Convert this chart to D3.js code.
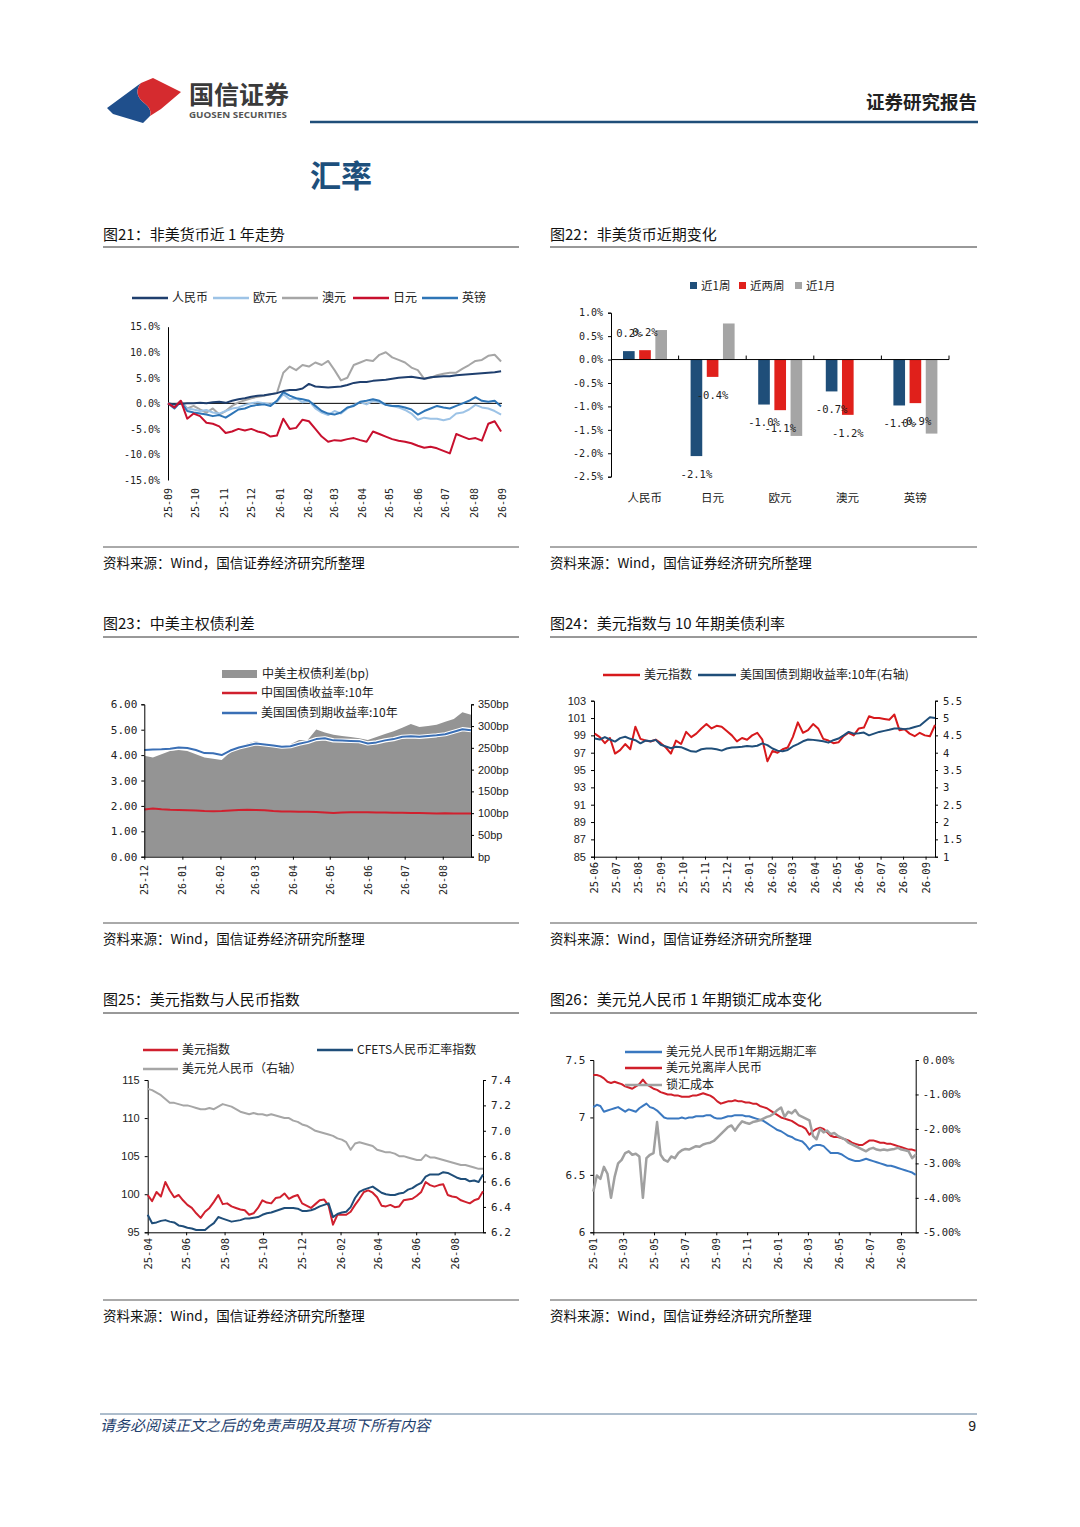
<!DOCTYPE html>
<html><head><meta charset="utf-8">
<script src="https://cdn.jsdelivr.net/npm/d3@7"></script>
<style>body{margin:0;background:#fff}svg{display:block}</style>
</head><body>
<svg id="page" width="1080" height="1527"></svg>
<script>
// ---------------- DATA ----------------
// 图21 非美货币近1年走势 (weekly, from 2025-09-01), %
const c21Start = "2025-09-01";
const c21Months = ["25-09","25-10","25-11","25-12","26-01","26-02","26-03","26-04","26-05","26-06","26-07","26-08","26-09"];
const c21YTicks = [-15,-10,-5,0,5,10,15];
const c21Names = ["人民币","欧元","澳元","日元","英镑"];
const c21Cny = [0,-0.2,-0.1,0,0,0.1,0,0.2,0.3,0.1,0.5,0.8,1.0,1.3,1.5,1.6,1.8,2.0,2.4,2.6,2.6,2.9,3.8,3.3,3.2,3.1,3.2,3.3,3.6,4.0,4.2,4.2,4.4,4.5,4.6,4.8,5.0,5.1,5.2,5.0,4.8,5.1,5.2,5.3,5.3,5.5,5.6,5.7,5.8,5.9,6.0,6.1,6.3];
const c21Eur = [0,-0.6,0.2,-1.0,-1.2,-1.5,-1.3,-1.8,-2.0,-1.5,-1.0,-0.8,-0.3,0,0.2,0,-0.2,0.3,1.8,0.8,1.0,0.2,0.5,-1.0,-1.8,-2.3,-1.5,-2.0,-1.0,-0.3,0.2,-0.2,0.5,0.2,-0.3,-0.5,-0.8,-1.3,-2.0,-3.2,-2.8,-3.0,-3.0,-3.3,-3.0,-2.0,-1.8,-1.2,-0.3,-0.8,-1.0,-1.5,-2.2];
const c21Aud = [0,-0.5,0.5,-1.0,-0.5,-1.2,-1.8,-1.0,-2.2,-1.5,-0.5,0.2,0.6,1.0,1.3,1.5,1.8,2.0,6.0,7.2,6.5,7.5,7.2,8.0,7.5,8.3,6.5,4.5,5.0,7.5,8.0,8.5,8.3,9.5,10.0,9.0,8.5,8.0,7.0,6.5,4.8,5.0,5.5,5.8,6.0,6.0,6.8,7.5,8.3,8.5,9.3,9.5,8.2];
const c21Jpy = [0,-0.8,0.5,-3.0,-2.0,-2.5,-3.8,-4.0,-4.5,-5.8,-5.5,-5.0,-5.3,-5.0,-5.5,-5.8,-6.5,-6.3,-3.0,-5.0,-4.8,-3.2,-3.5,-5.0,-6.5,-7.5,-7.2,-7.3,-7.0,-6.8,-7.2,-7.5,-5.5,-6.0,-6.5,-7.0,-7.3,-7.5,-7.8,-8.3,-8.7,-8.5,-8.8,-9.3,-9.8,-6.0,-6.5,-7.0,-6.8,-7.3,-4.0,-3.5,-5.5];
const c21Gbp = [0,-1.0,0.3,-1.5,-1.8,-2.0,-2.2,-2.5,-2.3,-2.8,-2.0,-1.2,-1.0,-0.5,-0.3,-0.2,-0.5,0.5,2.2,1.5,1.0,0.8,0.5,-0.5,-1.5,-2.0,-2.2,-1.8,-0.8,-0.5,0.3,0.5,0.8,0.5,-0.3,-0.5,-0.5,-0.8,-1.2,-2.2,-1.5,-1.0,-0.5,-0.8,-1.0,-0.5,0.0,0.5,1.2,0.5,0.3,0.5,-0.6];

// 图22 非美货币近期变化, %
const c22Cats = ["人民币","日元","欧元","澳元","英镑"];
const c22Series = ["近1周","近两周","近1月"];
const c22Week = [0.18,-2.06,-0.96,-0.68,-0.98];
const c22TwoWeek = [0.20,-0.37,-1.08,-1.18,-0.93];
const c22Month = [0.63,0.77,-1.63,0.0,-1.58];
const c22YTicks = [-2.5,-2.0,-1.5,-1.0,-0.5,0,0.5,1.0];

// 图23 中美主权债利差 (weekly from 2025-12-01)
const c23Start = "2025-12-01";
const c23Months = ["25-12","26-01","26-02","26-03","26-04","26-05","26-06","26-07","26-08"];
const c23Names = ["中美主权债利差(bp)","中国国债收益率:10年","美国国债到期收益率:10年"];
const c23Spread = [232,228,235,243,245,243,235,228,225,222,240,252,260,266,258,255,252,258,268,268,292,285,280,277,275,272,268,275,282,288,296,305,298,300,303,310,316,332,326];
const c23Cn = [1.86,1.90,1.87,1.85,1.84,1.83,1.82,1.80,1.79,1.80,1.82,1.84,1.85,1.84,1.83,1.80,1.78,1.78,1.77,1.77,1.76,1.74,1.72,1.74,1.75,1.75,1.75,1.74,1.74,1.73,1.73,1.72,1.72,1.71,1.70,1.71,1.70,1.70,1.70];
const c23Us = [4.20,4.22,4.23,4.25,4.30,4.28,4.20,4.08,4.07,4.00,4.18,4.30,4.38,4.46,4.42,4.38,4.33,4.35,4.45,4.52,4.63,4.66,4.58,4.57,4.56,4.55,4.46,4.50,4.58,4.63,4.72,4.74,4.72,4.75,4.78,4.82,4.92,5.02,4.98];
const c23LTicks = [0,1,2,3,4,5,6];
const c23RTicks = [0,50,100,150,200,250,300,350];

// 图24 美元指数与10年期美债利率 (weekly from 2025-06-02)
const c24Start = "2025-06-02";
const c24Months = ["25-06","25-07","25-08","25-09","25-10","25-11","25-12","26-01","26-02","26-03","26-04","26-05","26-06","26-07","26-08","26-09"];
const c24Names = ["美元指数","美国国债到期收益率:10年(右轴)"];
const c24Dxy = [99.2,98.8,98.1,98.7,96.9,97.3,98.0,97.4,100.0,98.6,98.4,98.3,98.5,98.1,97.6,96.9,98.4,98.0,99.4,98.8,99.2,99.8,100.3,99.8,100.1,100.0,99.5,99.0,98.3,98.7,98.5,99.0,99.3,98.5,96.0,97.2,97.0,97.4,97.6,98.8,100.5,99.3,99.6,100.3,99.8,98.6,98.4,98.1,98.2,98.9,99.3,99.0,99.8,99.9,101.2,101.0,101.0,100.9,100.8,101.4,99.6,99.7,99.2,98.9,99.3,99.0,98.9,100.2];
const c24Ust = [4.41,4.38,4.45,4.38,4.32,4.42,4.46,4.40,4.36,4.27,4.35,4.33,4.37,4.23,4.18,4.13,4.17,4.16,4.10,4.04,4.03,4.10,4.12,4.12,4.10,4.06,4.12,4.15,4.16,4.17,4.19,4.18,4.20,4.27,4.22,4.12,4.06,4.04,4.08,4.18,4.25,4.33,4.38,4.37,4.35,4.33,4.29,4.36,4.41,4.50,4.60,4.55,4.56,4.58,4.50,4.55,4.60,4.63,4.66,4.70,4.70,4.68,4.70,4.74,4.78,4.90,5.02,5.00];
const c24LTicks = [85,87,89,91,93,95,97,99,101,103];
const c24RTicks = [1,1.5,2,2.5,3,3.5,4,4.5,5,5.5];

// 图25 美元指数与人民币指数 (weekly from 2025-04-01)
const c25Start = "2025-04-01";
const c25Months = ["25-04","25-06","25-08","25-10","25-12","26-02","26-04","26-06","26-08"];
const c25Names = ["美元指数","CFETS人民币汇率指数","美元兑人民币（右轴）"];
const c25Dxy = [99.9,99.1,100.3,99.7,101.6,100.5,99.6,99.9,99.2,98.6,98.2,97.5,96.9,97.7,98.2,99.0,99.9,98.7,98.8,98.4,98.2,98.0,97.9,97.3,97.5,98.2,99.2,98.9,98.8,99.5,99.6,100.1,99.4,99.7,99.9,98.8,98.5,98.2,98.7,99.2,99.3,98.5,96.0,97.3,97.3,97.3,97.7,98.6,99.4,100.3,100.5,100.2,99.6,98.5,98.4,98.6,98.3,98.4,99.2,99.3,99.4,99.8,100.3,101.6,101.2,101.0,101.2,101.3,99.9,99.7,99.6,99.2,99.0,98.8,99.2,99.4,100.4];
const c25Cfets = [97.3,96.2,96.3,96.5,96.6,96.4,96.3,95.9,95.8,95.6,95.5,95.3,95.3,95.3,95.8,96.2,97.0,96.8,96.6,96.4,96.5,96.6,96.8,96.8,96.9,97.0,97.3,97.5,97.6,97.8,98.0,98.2,98.2,98.2,98.1,97.8,97.8,97.9,98.1,98.4,98.6,98.8,97.0,97.4,97.6,97.7,98.3,99.5,100.3,100.6,100.8,101.0,100.6,100.2,100.0,99.9,99.9,100.1,100.2,100.6,100.8,101.2,101.5,102.3,102.6,102.6,102.6,102.9,102.8,102.5,102.2,102.0,102.0,101.7,101.8,101.6,102.6];
const c25UsdCny = [7.33,7.32,7.30,7.28,7.25,7.22,7.22,7.21,7.20,7.20,7.19,7.18,7.17,7.17,7.18,7.17,7.19,7.21,7.20,7.19,7.17,7.15,7.14,7.13,7.14,7.13,7.13,7.12,7.13,7.12,7.11,7.10,7.10,7.08,7.07,7.05,7.04,7.02,7.00,6.99,6.98,6.97,6.96,6.94,6.93,6.91,6.85,6.90,6.91,6.90,6.89,6.88,6.85,6.84,6.83,6.83,6.82,6.80,6.80,6.79,6.78,6.77,6.77,6.81,6.79,6.79,6.78,6.77,6.76,6.75,6.74,6.73,6.73,6.72,6.71,6.70,6.70];
const c25LTicks = [95,100,105,110,115];
const c25RTicks = [6.2,6.4,6.6,6.8,7.0,7.2,7.4];

// 图26 美元兑人民币1年期锁汇成本变化 (weekly from 2025-01-01)
const c26Start = "2025-01-01";
const c26Months = ["25-01","25-03","25-05","25-07","25-09","25-11","26-01","26-03","26-05","26-07","26-09"];
const c26Names = ["美元兑人民币1年期远期汇率","美元兑离岸人民币","锁汇成本"];
const c26Fwd = [7.09,7.11,7.10,7.05,7.06,7.07,7.08,7.09,7.07,7.05,7.07,7.06,7.05,7.08,7.10,7.12,7.09,7.08,7.06,7.03,7.00,6.99,6.99,6.99,6.99,7.00,6.99,7.00,7.00,7.01,7.01,7.01,7.02,7.02,7.00,6.99,6.99,7.00,7.01,7.01,7.02,7.02,7.02,7.01,7.01,7.00,6.99,6.98,6.97,6.95,6.93,6.91,6.89,6.88,6.86,6.84,6.83,6.81,6.80,6.79,6.76,6.72,6.75,6.76,6.76,6.75,6.72,6.69,6.69,6.69,6.68,6.66,6.64,6.63,6.62,6.62,6.63,6.64,6.63,6.62,6.61,6.60,6.59,6.58,6.58,6.57,6.56,6.55,6.54,6.53,6.52,6.50];
const c26Cnh = [7.37,7.37,7.36,7.34,7.31,7.30,7.31,7.30,7.29,7.27,7.26,7.25,7.27,7.29,7.33,7.29,7.27,7.25,7.24,7.22,7.21,7.20,7.20,7.19,7.19,7.18,7.18,7.18,7.19,7.19,7.20,7.21,7.20,7.19,7.17,7.14,7.12,7.13,7.14,7.14,7.15,7.14,7.14,7.13,7.13,7.12,7.12,7.10,7.09,7.08,7.06,7.04,7.02,7.00,6.99,6.98,6.97,6.95,6.93,6.92,6.90,6.85,6.88,6.90,6.91,6.90,6.87,6.84,6.83,6.83,6.82,6.81,6.80,6.78,6.77,6.76,6.76,6.78,6.80,6.80,6.79,6.78,6.78,6.77,6.77,6.76,6.75,6.74,6.73,6.72,6.72,6.71];
const c26Cost = [-3.82,-3.35,-3.45,-3.10,-3.30,-4.00,-3.40,-3.00,-2.90,-2.70,-2.65,-2.75,-2.72,-2.80,-4.00,-2.85,-2.75,-2.70,-1.80,-2.75,-2.90,-2.95,-2.80,-2.85,-2.70,-2.62,-2.58,-2.60,-2.55,-2.50,-2.52,-2.45,-2.42,-2.40,-2.35,-2.25,-2.15,-2.05,-1.95,-1.90,-2.05,-1.90,-1.78,-1.82,-1.85,-1.80,-1.78,-1.75,-1.70,-1.65,-1.62,-1.55,-1.45,-1.38,-1.65,-1.50,-1.55,-1.45,-1.60,-1.65,-1.70,-1.75,-2.20,-2.30,-2.00,-2.10,-2.05,-2.15,-2.12,-2.20,-2.25,-2.30,-2.40,-2.45,-2.50,-2.55,-2.60,-2.65,-2.58,-2.55,-2.60,-2.62,-2.60,-2.62,-2.60,-2.58,-2.55,-2.60,-2.62,-2.65,-2.85,-2.75];
const c26LTicks = [6,6.5,7,7.5];
const c26RTicks = [-5,-4,-3,-2,-1,0];

// ---------------- HELPERS ----------------
const svg = d3.select("#page");
const CJK = '"Noto Sans CJK SC","Noto Sans",sans-serif';
const MONO = '"DejaVu Sans Mono","Liberation Mono",monospace';
const SANS = '"Liberation Sans",Arial,sans-serif';
const parseD = d3.timeParse("%Y-%m-%d");
const parseM = d3.timeParse("%y-%m");
const fmtM = d3.timeFormat("%y-%m");

svg.append("rect").attr("width",1080).attr("height",1527).attr("fill","#fff");

function txt(x,y,s,o={}){
  const t=svg.append("text").attr("x",x).attr("y",y).text(s)
    .attr("font-family",o.fam||CJK).attr("font-size",o.size||12).attr("fill",o.fill||"#222");
  if(o.anchor)t.attr("text-anchor",o.anchor);
  if(o.weight)t.attr("font-weight",o.weight);
  if(o.style)t.attr("font-style",o.style);
  if(o.len)t.attr("textLength",o.len).attr("lengthAdjust","spacingAndGlyphs");
  if(o.dy)t.attr("dy",o.dy);
  return t;
}
function hline(x1,x2,y,c,w){svg.append("line").attr("x1",x1).attr("x2",x2).attr("y1",y).attr("y2",y).attr("stroke",c).attr("stroke-width",w);}
function weeks(start,n){const s=parseD(start);return d3.range(n).map(i=>d3.timeDay.offset(s,7*i));}
function drawLine(x,y,vals,start,color,w,halo){
  const ds=weeks(start,vals.length);
  const gen=d3.line().x((d,i)=>x(ds[i])).y(d=>y(d));
  if(halo) svg.append("path").datum(vals).attr("fill","none").attr("stroke","#fff").attr("stroke-width",w+2.2).attr("stroke-linejoin","round").attr("d",gen);
  svg.append("path").datum(vals).attr("fill","none").attr("stroke",color).attr("stroke-width",w).attr("stroke-linejoin","round").attr("d",gen);
}
function axis(gen,tx,ty,fam,size,o={}){
  const g=svg.append("g").attr("transform",`translate(${tx},${ty})`).call(gen);
  g.attr("font-family",fam).attr("font-size",size).attr("color","#000");
  g.selectAll("text").attr("fill","#222");
  if(o.noDomain)g.select(".domain").remove();
  if(o.rot)g.selectAll("text").attr("transform","rotate(-90)").attr("x",0).attr("y",0).attr("dy","0.35em").attr("text-anchor","end");
  return g;
}
function legLine(x,y,len,color,label,w,size){
  svg.append("line").attr("x1",x).attr("x2",x+len).attr("y1",y).attr("y2",y).attr("stroke",color).attr("stroke-width",w||2.5);
  txt(x+len+4,y,label,{size:size||12,dy:"0.35em"});
}
function frame(x0,x1,titleY,title,ruleY,srcLineY,srcY){
  txt(x0,titleY,title,{size:15,fill:"#111"});
  hline(x0,x1,ruleY,"#333",1);
  hline(x0,x1,srcLineY,"#555",1);
  txt(x0,srcY,"资料来源：Wind，国信证券经济研究所整理",{size:13.5,fill:"#111"});
}

// ---------------- HEADER ----------------
svg.append("path").attr("fill","#1f4f8c")
  .attr("d","M107,108 L141,83 C136,89 136,96 143,102 C148,106 152,110 150,116 L143,123 L113,114 Z");
svg.append("path").attr("fill","#d52b2f")
  .attr("d","M141,83 L153,78 L181,92 L161,109 L150,116 C152,110 148,106 143,102 C136,96 136,89 141,83 Z");
txt(189,104,"国信证券",{size:25,weight:700,fill:"#3a3a3a",len:100});
txt(189,118,"GUOSEN SECURITIES",{size:8.5,weight:700,fill:"#555",fam:'"Open Sans",sans-serif',len:98});
txt(977,109,"证券研究报告",{size:18.5,weight:700,fill:"#222",anchor:"end"});
hline(310,978,122,"#1f4e79",2.5);
txt(310,187,"汇率",{size:31,weight:700,fill:"#1d4f7c"});

frame(103,519,240,"图21：非美货币近 1 年走势",247,547,568);
frame(550,977,240,"图22：非美货币近期变化",247,547,568);
frame(103,519,629,"图23：中美主权债利差",637,923,944);
frame(550,977,629,"图24：美元指数与 10 年期美债利率",637,923,944);
frame(103,519,1005,"图25：美元指数与人民币指数",1013,1300,1321);
frame(550,977,1005,"图26：美元兑人民币 1 年期锁汇成本变化",1013,1300,1321);

hline(100,977,1414,"#5b7a99",1);
txt(100,1431,"请务必阅读正文之后的免责声明及其项下所有内容",{size:15,style:"italic",fill:"#1f3f6e"});
txt(976,1431,"9",{size:14,anchor:"end",fill:"#222",fam:SANS});

// ---------------- 图21 ----------------
(function(){
  const x=d3.scaleTime().domain([parseD("2025-09-01"),parseD("2026-09-01")]).range([168,502]);
  const y=d3.scaleLinear().domain([-15,15]).range([480,326.7]);
  const months=c21Months.map(parseM);
  axis(d3.axisLeft(y).tickValues(c21YTicks).tickFormat(d=>d.toFixed(1)+"%").tickSize(0).tickPadding(8),168,0,MONO,10);
  hline(168,502,y(0),"#000",1);
  axis(d3.axisBottom(x).tickValues(months).tickFormat(fmtM).tickSize(0),0,488,MONO,10,{noDomain:true,rot:true});
  const cols=["#1f3f6e","#9dc3e6","#a6a6a6","#c8102e","#2e75b6"];
  const vals=[c21Cny,c21Eur,c21Aud,c21Jpy,c21Gbp];
  const order=[2,1,4,0,3];
  order.forEach(i=>drawLine(x,y,vals[i],c21Start,cols[i],2));
  const lx=[132,213,282,353,422];
  c21Names.forEach((n,i)=>legLine(lx[i],298,36,cols[i],n,2.5,12));
})();

// ---------------- 图22 ----------------
(function(){
  const x0=d3.scaleBand().domain(c22Cats).range([611,949]);
  const x1=d3.scaleBand().domain(c22Series).range([12,56]).paddingInner(0.28);
  const y=d3.scaleLinear().domain([-2.5,1]).range([476.7,312.7]);
  const cols=["#1f4e79","#e0201b","#a5a5a5"];
  const sv=[c22Week,c22TwoWeek,c22Month];
  axis(d3.axisLeft(y).tickValues(c22YTicks).tickFormat(d=>d.toFixed(1)+"%").tickSize(3).tickPadding(5),611,0,MONO,10);
  sv.forEach((arr,j)=>{
    svg.append("g").selectAll("rect").data(arr).join("rect")
      .attr("x",(d,i)=>x0(c22Cats[i])+x1(c22Series[j]))
      .attr("width",x1.bandwidth())
      .attr("y",d=>Math.min(y(d),y(0)))
      .attr("height",d=>Math.abs(y(d)-y(0)))
      .attr("fill",cols[j]);
  });
  hline(611,949,y(0),"#000",1);
  svg.append("g").selectAll("line").data(c22Cats).join("line")
    .attr("x1",d=>x0(d)+x0.step()).attr("x2",d=>x0(d)+x0.step())
    .attr("y1",y(0)-4).attr("y2",y(0)).attr("stroke","#000");
  [0,1].forEach(j=>{
    svg.append("g").selectAll("text").data(sv[j]).join("text")
      .attr("x",(d,i)=>x0(c22Cats[i])+x1(c22Series[j])+x1.bandwidth()/2)
      .attr("y",d=>d>=0?y(d)-18:y(d)+18).attr("dy","0.35em")
      .attr("text-anchor","middle").attr("font-family",MONO).attr("font-size",10.5).attr("fill","#222")
      .text(d=>d.toFixed(1)+"%");
  });
  axis(d3.axisBottom(x0).tickSize(0).tickPadding(0),0,494,CJK,11.5,{noDomain:true});
  const lx=[690,739,795];
  c22Series.forEach((s,j)=>{
    svg.append("rect").attr("x",lx[j]).attr("y",282).attr("width",7).attr("height",7).attr("fill",cols[j]);
    txt(lx[j]+11,285.5,s,{size:11.5,dy:"0.35em"});
  });
})();

// ---------------- 图23 ----------------
(function(){
  const x=d3.scaleTime().domain([parseD("2025-12-01"),parseD("2026-08-24")]).range([144.3,471]);
  const yL=d3.scaleLinear().domain([0,6]).range([856.7,704.3]);
  const yR=d3.scaleLinear().domain([0,350]).range([856.7,704.3]);
  const ds=weeks(c23Start,c23Spread.length);
  svg.append("path").datum(c23Spread).attr("fill","#949494")
    .attr("d",d3.area().x((d,i)=>x(ds[i])).y0(yR(0)).y1(d=>yR(d)));
  drawLine(x,yL,c23Cn,c23Start,"#d0202e",2);
  drawLine(x,yL,c23Us,c23Start,"#3a6fb5",2,true);
  axis(d3.axisLeft(yL).tickValues(c23LTicks).tickFormat(d=>d.toFixed(2)).tickSize(3).tickPadding(4),144.3,0,MONO,11);
  axis(d3.axisRight(yR).tickValues(c23RTicks).tickFormat(d=>d===0?"bp":d+"bp").tickSize(3).tickPadding(4),471,0,SANS,11);
  axis(d3.axisBottom(x).tickValues(c23Months.map(parseM)).tickFormat("").tickSize(3).tickSizeOuter(0),0,856.7,MONO,10);
  axis(d3.axisBottom(x).tickValues(c23Months.map(parseM)).tickFormat(fmtM).tickSize(0),0,865,MONO,10,{noDomain:true,rot:true});
  svg.append("rect").attr("x",222).attr("y",670).attr("width",35).attr("height",8).attr("fill","#949494");
  txt(262,674,c23Names[0],{size:12,dy:"0.35em"});
  legLine(222,693,35,"#d0202e",c23Names[1],2.5,12);
  legLine(222,713,35,"#3a6fb5",c23Names[2],2.5,12);
})();

// ---------------- 图24 ----------------
(function(){
  const x=d3.scaleTime().domain([parseD("2025-06-01"),parseD("2026-09-14")]).range([594,935]);
  const yL=d3.scaleLinear().domain([85,103]).range([856.7,700.7]);
  const yR=d3.scaleLinear().domain([1,5.5]).range([856.7,700.7]);
  axis(d3.axisLeft(yL).tickValues(c24LTicks).tickSize(3).tickPadding(5),594,0,SANS,11);
  axis(d3.axisRight(yR).tickValues(c24RTicks).tickFormat(d=>d%1===0?String(d):d.toFixed(1)).tickSize(3).tickPadding(5),935,0,MONO,10.5);
  axis(d3.axisBottom(x).tickValues(c24Months.map(parseM)).tickFormat("").tickSize(3).tickSizeOuter(0),0,856.7,MONO,10);
  axis(d3.axisBottom(x).tickValues(c24Months.map(parseM)).tickFormat(fmtM).tickSize(0),0,862,MONO,10.5,{noDomain:true,rot:true});
  drawLine(x,yL,c24Dxy,c24Start,"#d7191c",2);
  drawLine(x,yR,c24Ust,c24Start,"#1f4e79",2);
  legLine(603,675,37,"#d7191c",c24Names[0],2.5,12);
  legLine(698,675,38,"#1f4e79",c24Names[1],2.5,12);
})();

// ---------------- 图25 ----------------
(function(){
  const x=d3.scaleTime().domain([parseD("2025-04-01"),parseD("2026-09-15")]).range([147.7,483]);
  const yL=d3.scaleLinear().domain([95,115]).range([1232.3,1080]);
  const yR=d3.scaleLinear().domain([6.2,7.4]).range([1232.3,1080]);
  axis(d3.axisLeft(yL).tickValues(c25LTicks).tickSize(3).tickPadding(5),147.7,0,SANS,11);
  axis(d3.axisRight(yR).tickValues(c25RTicks).tickFormat(d=>d.toFixed(1)).tickSize(3).tickPadding(5),483,0,MONO,11);
  axis(d3.axisBottom(x).tickValues(c25Months.map(parseM)).tickFormat("").tickSize(3).tickSizeOuter(0),0,1232.3,MONO,10);
  axis(d3.axisBottom(x).tickValues(c25Months.map(parseM)).tickFormat(fmtM).tickSize(0),0,1238,MONO,10.5,{noDomain:true,rot:true});
  drawLine(x,yR,c25UsdCny,c25Start,"#a6a6a6",2);
  drawLine(x,yL,c25Dxy,c25Start,"#d0202e",2);
  drawLine(x,yL,c25Cfets,c25Start,"#1f4e79",2);
  legLine(143,1050,35,"#d0202e",c25Names[0],2.5,12);
  legLine(317,1050,36,"#1f4e79",c25Names[1],2.5,12);
  legLine(143,1069,35,"#a6a6a6",c25Names[2],2.5,12);
})();

// ---------------- 图26 ----------------
(function(){
  const x=d3.scaleTime().domain([parseD("2025-01-01"),parseD("2026-09-30")]).range([593.3,915.7]);
  const yL=d3.scaleLinear().domain([6,7.5]).range([1232.3,1060]);
  const yR=d3.scaleLinear().domain([-5,0]).range([1232.3,1060]);
  axis(d3.axisLeft(yL).tickValues(c26LTicks).tickFormat(d=>d%1===0?String(d):d.toFixed(1)).tickSize(3).tickPadding(5),593.3,0,MONO,11);
  axis(d3.axisRight(yR).tickValues(c26RTicks).tickFormat(d=>d.toFixed(2)+"%").tickSize(3).tickPadding(4),915.7,0,MONO,10.5);
  axis(d3.axisBottom(x).tickValues(c26Months.map(parseM)).tickFormat("").tickSize(3).tickSizeOuter(0),0,1232.3,MONO,10);
  axis(d3.axisBottom(x).tickValues(c26Months.map(parseM)).tickFormat(fmtM).tickSize(0),0,1238,MONO,10.5,{noDomain:true,rot:true});
  drawLine(x,yL,c26Fwd,c26Start,"#3a78c0",2);
  drawLine(x,yL,c26Cnh,c26Start,"#d01f2a",2);
  drawLine(x,yR,c26Cost,c26Start,"#a0a0a0",2.5);
  legLine(625,1052,37,"#3a78c0",c26Names[0],2.5,12);
  legLine(625,1068,37,"#d01f2a",c26Names[1],2.5,12);
  legLine(625,1085,37,"#a0a0a0",c26Names[2],2.5,12);
})();
</script>
</body></html>
